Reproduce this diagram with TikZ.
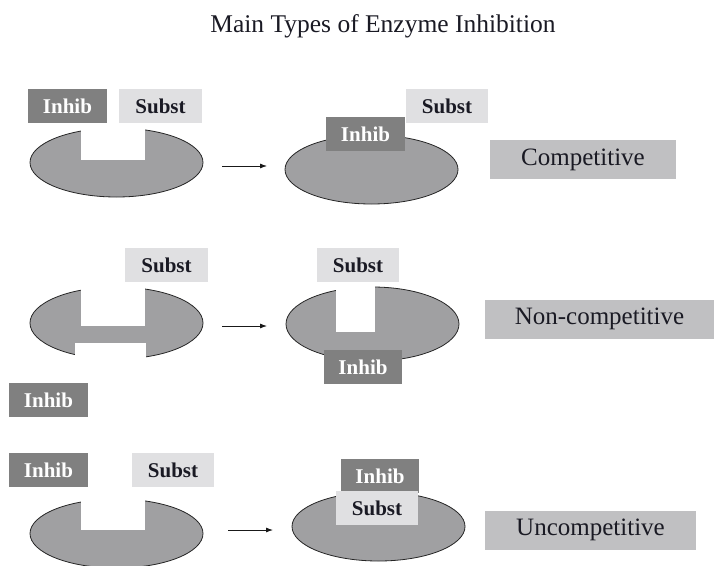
\documentclass[tikz,border=0pt]{standalone}
\usepackage{fontspec}
\setmainfont{Liberation Serif}
\usepackage{xcolor}
\usepackage{tikz}
\usetikzlibrary{shapes.geometric, arrows.meta, positioning}

\definecolor{enzgray}{HTML}{A0A0A2}
\definecolor{inhibgray}{HTML}{808080}
\definecolor{substgray}{HTML}{E0E0E2}
\definecolor{labelgray}{HTML}{C0C0C2}
\definecolor{inkblack}{HTML}{1A1A24}

\tikzset{
  enzyme/.style={ellipse, fill=enzgray, draw=black!85, line width=0.8pt,
    minimum width=173pt, minimum height=69pt, inner sep=0pt},
  notch/.style={fill=white},
  inhib/.style={fill=inhibgray, text=white, inner sep=0pt,
    font=\fontsize{21}{25}\selectfont\bfseries,
    minimum width=79pt, minimum height=34pt},
  subst/.style={fill=substgray, text=inkblack, inner sep=0pt,
    font=\fontsize{21}{25}\selectfont\bfseries,
    minimum width=83pt, minimum height=34pt},
  typebox/.style={fill=labelgray, text=inkblack, inner sep=0pt,
    font=\fontsize{25}{30}\selectfont, minimum height=39pt},
  react/.style={-{Latex[length=7pt, width=5pt]}, line width=0.8pt, black!90}
}

\begin{document}
\begin{tikzpicture}[x=1pt, y=-1pt]
    \useasboundingbox (0,0) rectangle (714,565);

    % Title
    \node[font=\fontsize{25.5}{30}\selectfont, text=inkblack, anchor=base]
        (title) at (383,32) {Main Types of Enzyme Inhibition};

    % --- Competitive ---
    \node[enzyme] (enz1a) at (116.5,162.5) {};
    \fill[notch] (81,124) rectangle (145,160);
    \node[inhib] (inhib1a) at (67.5,106) {Inhib};
    \node[subst] (subst1a) at (160.5,106) {Subst};

    \coordinate (r1s) at (222,166);
    \coordinate (r1e) at (267,166);
    \draw[react] (r1s) -- (r1e);

    \node[enzyme] (enz1b) at (371.5,169.5) {};
    \node[inhib] (inhib1b) at (365.5,134) {Inhib};
    \node[subst, minimum width=82pt] (subst1b) at (447,106) {Subst};

    \node[typebox, minimum width=186pt] (comp) at (583,159.5) {Competitive};

    % --- Non-competitive ---
    \node[enzyme, minimum height=72pt] (enz2a) at (116.5,323) {};
    \fill[notch] (81,284) rectangle (145,326);
    \fill[notch] (75,343) rectangle (146,372);
    \node[subst] (subst2a) at (166.5,265) {Subst};
    \node[inhib] (inhib2a) at (48.5,400) {Inhib};

    \coordinate (r2s) at (222,326);
    \coordinate (r2e) at (267,326);
    \draw[react] (r2s) -- (r2e);

    \node[enzyme, minimum height=74pt] (enz2b) at (372.5,324) {};
    \fill[notch] (336,284) rectangle (375,332);
    \node[subst, minimum width=82pt] (subst2b) at (358,265) {Subst};
    \node[inhib, minimum width=78pt] (inhib2b) at (363,367) {Inhib};

    \node[typebox, minimum width=229pt] (noncomp) at (599.5,319) {Non-competitive};

    % --- Uncompetitive ---
    \node[enzyme] (enz3a) at (116.5,533.5) {};
    \fill[notch] (81,490) rectangle (145,530);
    \node[inhib] (inhib3a) at (48.5,470) {Inhib};
    \node[subst, minimum width=82pt] (subst3a) at (173,470) {Subst};

    \coordinate (r3s) at (228,530);
    \coordinate (r3e) at (273,530);
    \draw[react] (r3s) -- (r3e);

    \node[enzyme] (enz3b) at (378.5,526.5) {};
    \node[inhib, minimum width=78pt] (inhib3b) at (380,476) {Inhib};
    \node[subst, minimum width=82pt] (subst3b) at (377,508) {Subst};

    \node[typebox, minimum width=211pt] (uncomp) at (590.5,530) {Uncompetitive};
\end{tikzpicture}
\end{document}
